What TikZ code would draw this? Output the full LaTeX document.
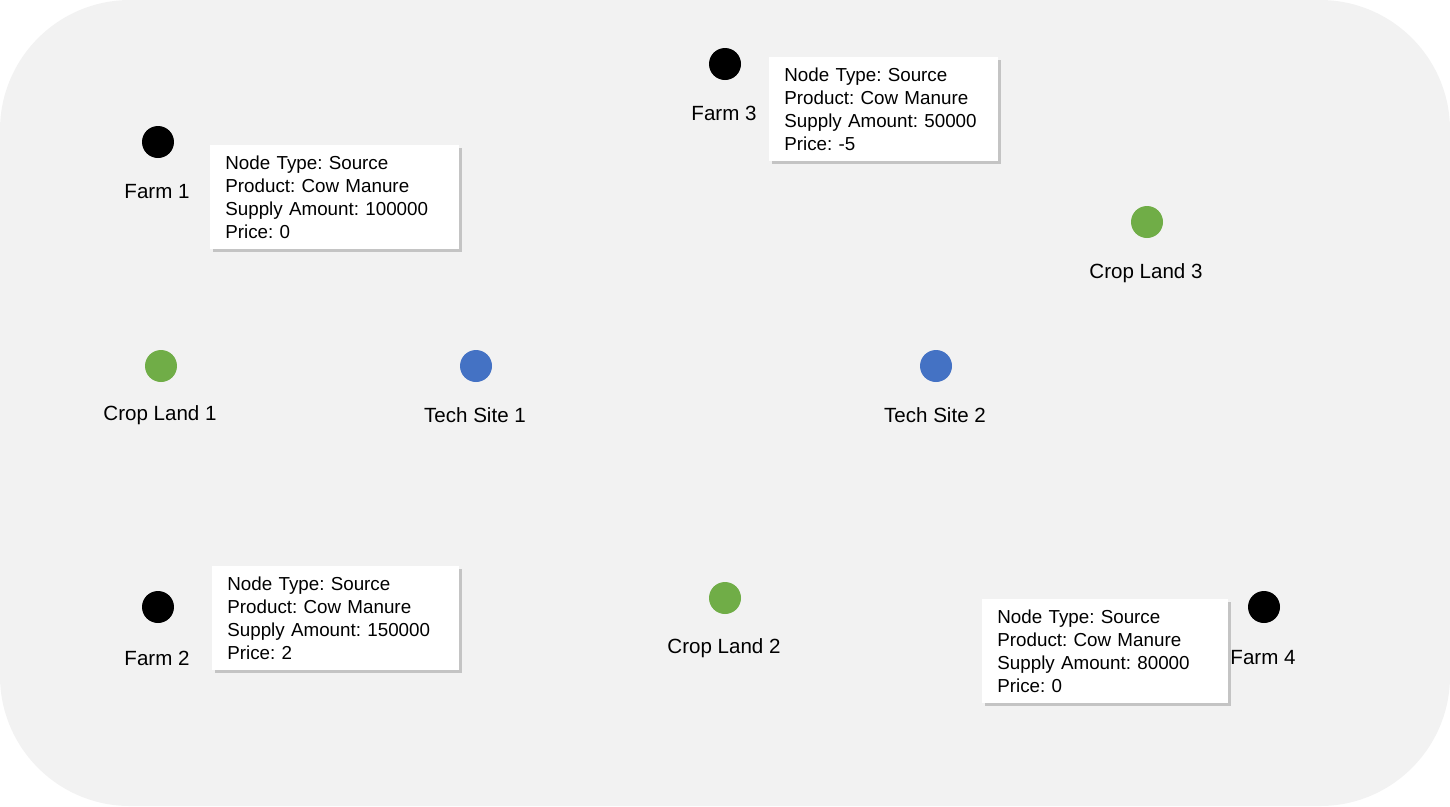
\documentclass[tikz,border=0pt]{standalone}
\usepackage{fontspec}
\setmainfont{Liberation Sans}
\usetikzlibrary{shadows}
\definecolor{bggray}{HTML}{F2F2F2}
\definecolor{cropgreen}{HTML}{70AD47}
\definecolor{techblue}{HTML}{4472C4}
\frenchspacing

\begin{document}
\begin{tikzpicture}[x=0.02cm,y=-0.02cm,
  dot/.style={circle,inner sep=0pt,minimum size=0.64cm},
  farm/.style={dot,fill=black},
  crop/.style={dot,fill=cropgreen},
  tech/.style={dot,fill=techblue},
  lbl/.style={font=\fontsize{11.7}{14}\selectfont},
  info/.style={anchor=north west,fill=white,align=left,inner xsep=0.3cm,inner ysep=0pt,
    minimum height=2.08cm,font=\fontsize{10.7}{13}\selectfont,
    drop shadow={shadow xshift=0.06cm,shadow yshift=-0.06cm,opacity=0.4}}]
\useasboundingbox (0,0) rectangle (1450,806);
\fill[bggray,rounded corners=2.6cm] (0,0) rectangle (1450,806);

\coordinate (F1) at (158,142);
\coordinate (F2) at (158,607);
\coordinate (F3) at (725,64);
\coordinate (F4) at (1264,607);
\coordinate (C1) at (161,366);
\coordinate (C2) at (725,598);
\coordinate (C3) at (1147,222);
\coordinate (T1) at (476,366);
\coordinate (T2) at (936,366);

\node[farm] (farm1) at (F1) {};
\node[farm] (farm2) at (F2) {};
\node[farm] (farm3) at (F3) {};
\node[farm] (farm4) at (F4) {};
\node[crop] (crop1) at (C1) {};
\node[crop] (crop2) at (C2) {};
\node[crop] (crop3) at (C3) {};
\node[tech] (tech1) at (T1) {};
\node[tech] (tech2) at (T2) {};

\node[lbl] (farm1lbl) at (157,192) {Farm 1};
\node[lbl] (farm2lbl) at (157,658) {Farm 2};
\node[lbl] (farm3lbl) at (724,113) {Farm 3};
\node[lbl] (farm4lbl) at (1263,658) {Farm 4};
\node[lbl] (crop1lbl) at (160,415) {Crop Land 1};
\node[lbl] (crop2lbl) at (724,648) {Crop Land 2};
\node[lbl] (crop3lbl) at (1146,273) {Crop Land 3};
\node[lbl] (tech1lbl) at (475,415) {Tech Site 1};
\node[lbl] (tech2lbl) at (935,415) {Tech Site 2};

\node[info,text width=4.38cm] (farm1info) at (210,145) {Node Type: Source\\Product: Cow Manure\\Supply Amount: 100000\\Price: 0};
\node[info,text width=3.98cm] (farm3info) at (769,57) {Node Type: Source\\Product: Cow Manure\\Supply Amount: 50000\\Price: -5};
\node[info,text width=4.34cm] (farm2info) at (212,566) {Node Type: Source\\Product: Cow Manure\\Supply Amount: 150000\\Price: 2};
\node[info,text width=4.32cm] (farm4info) at (982,599) {Node Type: Source\\Product: Cow Manure\\Supply Amount: 80000\\Price: 0};
\end{tikzpicture}
\end{document}
